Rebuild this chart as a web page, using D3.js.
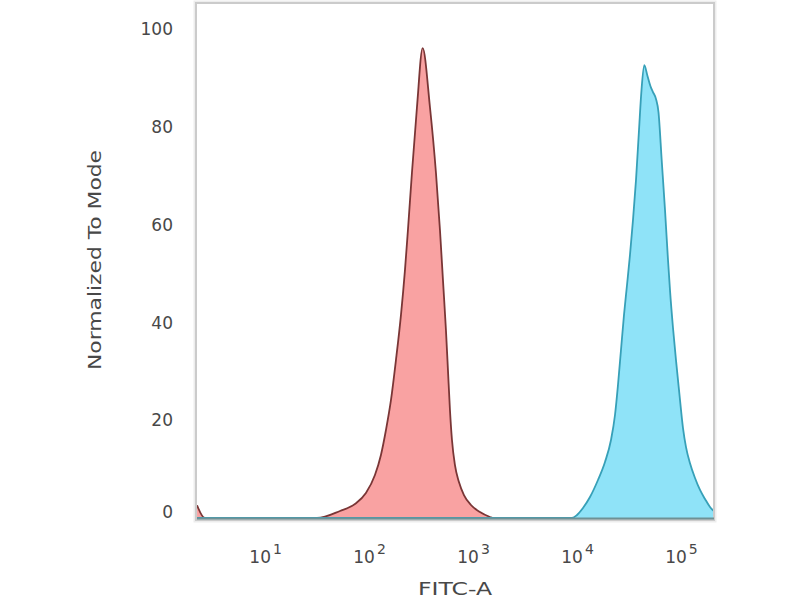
<!DOCTYPE html>
<html>
<head>
<meta charset="utf-8">
<script src="https://cdn.jsdelivr.net/npm/d3@7/dist/d3.min.js"></script>
<style>
  html, body { margin: 0; padding: 0; background: #fff; }
  svg { display: block; }
  text { font-family: "DejaVu Sans", Verdana, sans-serif; fill: #484848; }
</style>
</head>
<body>
<svg id="chart" width="800" height="600"></svg>
<script>
// ---- data ----
const xTickExponents = [1, 2, 3, 4, 5];
const yTicks = [0, 20, 40, 60, 80, 100];

// red histogram: FITC-A value and % of mode
const redFITC  = [2.19, 2.6, 31.2, 51.9, 72.3, 92.2, 112.6, 128.6, 143.7, 160.5, 179.3, 200.3, 218.9, 233.8, 255.5, 285.5, 323.8,
                  380.8, 434.8, 475.2, 507.6, 542.6, 567.1, 592.9, 619.7, 662.3, 723.5, 808.3, 944.1, 1152, 1438, 1520, 200000];
const redCount = [2.6, 0, 0, 1.43, 2.86, 5.11, 8.79, 12.9, 18.0, 24.1, 32.3, 41.5, 50.7, 58.9, 70.6, 84.0, 96.1,
                  84.0, 70.6, 58.9, 48.7, 38.4, 30.3, 22.1, 16.0, 10.8, 7.36, 4.70, 2.66, 1.23, 0.2, 0, 0];

// cyan histogram
const cyanFITC  = [2.19, 8845, 9879, 11284, 13178, 15730, 18374, 20981, 22928, 24496, 26182, 27975, 29900, 31956, 34147, 36502, 39011, 41230, 43864,
                   47085, 50319, 53178, 56838, 60069, 64483, 69392, 74145, 77505, 82817, 88512, 94607, 103370, 110490, 120730, 134900, 150660, 168360, 188050, 210100];
const cyanCount = [0, 0, 0.61, 2.04, 4.29, 7.77, 11.45, 15.95, 21.06, 27.2, 34.36, 41.5, 47.6, 53.8, 60.9, 69.1, 79.3, 87.5, 92.6,
                   90.4, 88.3, 87.1, 85.7, 83.0, 73.2, 63.0, 52.8, 46.6, 38.9, 32.3, 26.2, 18.4, 14.5, 11.2, 8.18, 5.73, 3.89, 2.25, 1.23];

const xLabel = "FITC-A";
const yLabel = "Normalized To Mode";

// ---- layout ----
const svg = d3.select("#chart");
const pLeft = 197, pRight = 713, pTop = 3, pBottom = 519;

const x = d3.scaleLog().domain([Math.pow(10, 0.34), Math.pow(10, 5.303)]).range([pLeft, pRight]);
const y = d3.scaleLinear().domain([0, 100]).range([518, 29]);

svg.append("defs").append("clipPath").attr("id", "plotclip")
  .append("rect").attr("x", pLeft).attr("y", pTop).attr("width", pRight - pLeft).attr("height", pBottom - pTop);

// frame shadow + frame
svg.append("rect").attr("x", 195).attr("y", 2).attr("width", 520).attr("height", 519)
  .attr("fill", "none").attr("stroke", "#ededed").attr("stroke-width", 3);
svg.append("rect").attr("x", 196).attr("y", 3).attr("width", 518).attr("height", 517)
  .attr("fill", "#fff").attr("stroke", "#cbcbcb").attr("stroke-width", 2);

const plot = svg.append("g").attr("clip-path", "url(#plotclip)");

function drawHist(vals, counts, fill, stroke) {
  const pts = vals.map((v, i) => [v, counts[i]]);
  const area = d3.area().x(d => x(d[0])).y0(y(0)).y1(d => y(d[1])).curve(d3.curveMonotoneX);
  const line = d3.line().x(d => x(d[0])).y(d => y(d[1])).curve(d3.curveMonotoneX);
  plot.append("path").datum(pts).attr("d", area).attr("fill", fill);
  plot.append("path").datum(pts).attr("d", line).attr("fill", "none")
    .attr("stroke", stroke).attr("stroke-width", 1.8).attr("stroke-linejoin", "round");
}

drawHist(redFITC, redCount, "#f9a2a2", "#7a3636");
drawHist(cyanFITC, cyanCount, "#8fe3f8", "#37a0b8");

// baseline line
svg.append("line").attr("x1", 197).attr("x2", 714).attr("y1", 518.5).attr("y2", 518.5)
  .attr("stroke", "#6e9196").attr("stroke-width", 2);

// y tick labels
svg.append("g").selectAll("text").data(yTicks).join("text")
  .attr("x", 173)
  .attr("y", d => y(d) + (d === 0 ? -6 : 0))
  .attr("dy", "0.36em")
  .attr("text-anchor", "end")
  .attr("font-size", 17)
  .text(d => d);

// x tick labels: 10^n
const xt = svg.append("g").selectAll("text").data(xTickExponents).join("text")
  .attr("x", d => x(Math.pow(10, d)))
  .attr("y", 563)
  .attr("text-anchor", "middle")
  .attr("font-size", 17);
xt.append("tspan").text("10");
xt.append("tspan").attr("dy", -9).attr("dx", 2).attr("font-size", 14).text(d => d);

// axis titles
svg.append("text").attr("x", 455).attr("y", 595).attr("text-anchor", "middle")
  .attr("font-size", 18).attr("textLength", 74).attr("lengthAdjust", "spacingAndGlyphs").text(xLabel);

svg.append("text").attr("transform", "translate(101,260) rotate(-90)").attr("text-anchor", "middle")
  .attr("font-size", 18).attr("textLength", 220).attr("lengthAdjust", "spacingAndGlyphs").text(yLabel);
</script>
</body>
</html>
